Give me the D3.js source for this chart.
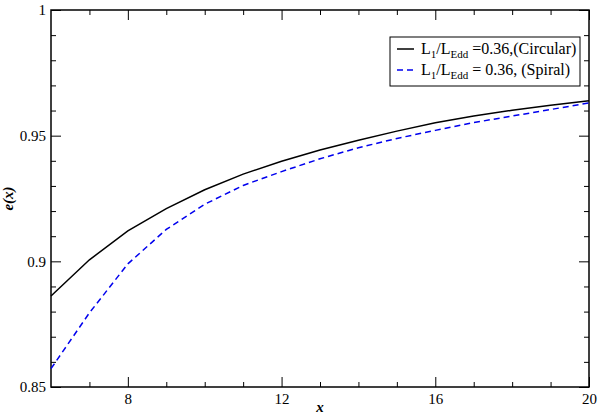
<!DOCTYPE html>
<html>
<head>
<meta charset="utf-8">
<script src="https://cdn.jsdelivr.net/npm/d3@7"></script>
<style>
  body { margin: 0; background: #fff; }
  svg text { font-family: "Liberation Serif", "Times New Roman", Times, "Nimbus Roman", "DejaVu Serif", serif !important; }
</style>
</head>
<body>
<div id="plot-container"></div>
<script>
const w = 600;
const h = 417;
const margin = { left: 51, right: 11, top: 10, bottom: 30 };

// data
const xValues = [6, 7, 8, 9, 10, 11, 12, 13, 14, 15, 16, 17, 18, 19, 20];
const circular = [0.8862, 0.9006, 0.9121, 0.9210, 0.9285, 0.9347, 0.9398, 0.9443, 0.9482, 0.9518, 0.9551, 0.9578, 0.9601, 0.9621, 0.9639];
const spiral = [0.8573, 0.8795, 0.8990, 0.9127, 0.9227, 0.9302, 0.9357, 0.9408, 0.9452, 0.9489, 0.9521, 0.9552, 0.9578, 0.9604, 0.9630];
const xTicks = [8, 12, 16, 20];
const xMinor = [7, 9, 10, 11, 13, 14, 15, 17, 18, 19];
const yTicks = [0.85, 0.9, 0.95, 1];
const yMinor = [0.86, 0.87, 0.88, 0.89, 0.91, 0.92, 0.93, 0.94, 0.96, 0.97, 0.98, 0.99];

const serif = '"Liberation Serif", "Times New Roman", Times, "DejaVu Serif", serif';

const svg = d3.select('#plot-container')
    .append('svg')
    .attr('width', w)
    .attr('height', h)
    .attr('font-family', serif)
    .style('background-color', '#fff');

const xScale = d3.scaleLinear().domain([6, 20]).range([margin.left, w - margin.right]);
const yScale = d3.scaleLinear().domain([0.85, 1]).range([h - margin.bottom, margin.top]);

const x0 = margin.left, x1 = w - margin.right;
const y0 = h - margin.bottom, y1 = margin.top;

// axes, ticks pointing inward on all four sides
const major = 10, minor = 5;
const fmt = d => String(+d.toFixed(2));

svg.append('g')
    .attr('transform', 'translate(0,' + y0 + ')')
    .call(d3.axisBottom(xScale).tickValues(xTicks).tickSize(-major).tickPadding(6).tickFormat(d3.format('d')));
svg.append('g')
    .attr('transform', 'translate(0,' + y0 + ')')
    .call(d3.axisBottom(xScale).tickValues(xMinor).tickSize(-minor).tickFormat(''));
svg.append('g')
    .attr('transform', 'translate(0,' + y1 + ')')
    .call(d3.axisTop(xScale).tickValues(xTicks).tickSize(-major).tickFormat(''));
svg.append('g')
    .attr('transform', 'translate(0,' + y1 + ')')
    .call(d3.axisTop(xScale).tickValues(xMinor).tickSize(-minor).tickFormat(''));

svg.append('g')
    .attr('transform', 'translate(' + x0 + ',0)')
    .call(d3.axisLeft(yScale).tickValues(yTicks).tickSize(-major).tickPadding(5).tickFormat(fmt));
svg.append('g')
    .attr('transform', 'translate(' + x0 + ',0)')
    .call(d3.axisLeft(yScale).tickValues(yMinor).tickSize(-minor).tickFormat(''));
svg.append('g')
    .attr('transform', 'translate(' + x1 + ',0)')
    .call(d3.axisRight(yScale).tickValues(yTicks).tickSize(-major).tickFormat(''));
svg.append('g')
    .attr('transform', 'translate(' + x1 + ',0)')
    .call(d3.axisRight(yScale).tickValues(yMinor).tickSize(-minor).tickFormat(''));

svg.selectAll('.domain').remove();
svg.selectAll('g').attr('font-family', serif);
svg.selectAll('.tick line').attr('stroke', '#000').attr('stroke-width', 1);
svg.selectAll('.tick text')
    .attr('fill', '#000')
    .attr('font-family', serif)
    .attr('font-size', 15);

svg.append('rect')
    .attr('x', x0).attr('y', y1)
    .attr('width', x1 - x0).attr('height', y0 - y1)
    .attr('fill', 'none')
    .attr('stroke', '#000')
    .attr('stroke-width', 1.5);

// curves
const line = d3.line()
    .x((d, i) => xScale(xValues[i]))
    .y(d => yScale(d));

svg.append('path')
    .datum(circular)
    .attr('d', line)
    .attr('fill', 'none')
    .attr('stroke', '#000')
    .attr('stroke-width', 1.5);

svg.append('path')
    .datum(spiral)
    .attr('d', line)
    .attr('fill', 'none')
    .attr('stroke', '#0000ee')
    .attr('stroke-width', 1.5)
    .attr('stroke-dasharray', '6,4');

// axis titles
svg.append('text')
    .attr('x', (x0 + x1) / 2)
    .attr('y', 412)
    .attr('text-anchor', 'middle')
    .attr('font-size', 15)
    .attr('font-weight', 'bold')
    .attr('font-style', 'italic')
    .text('x');

svg.append('text')
    .attr('transform', 'rotate(-90)')
    .attr('x', -((y0 + y1) / 2))
    .attr('y', 13)
    .attr('text-anchor', 'middle')
    .attr('font-size', 15)
    .attr('font-weight', 'bold')
    .attr('font-style', 'italic')
    .text('e(x)');

// legend
const legend = svg.append('g');
legend.append('rect')
    .attr('x', 390).attr('y', 37)
    .attr('width', 190).attr('height', 49)
    .attr('fill', '#fff')
    .attr('stroke', '#000')
    .attr('stroke-width', 1);

const entries = [
    { tail: ' =0.36,(Circular)', color: '#000', dash: null },
    { tail: ' = 0.36, (Spiral)', color: '#0000ee', dash: '6,4' }
];
entries.forEach((e, i) => {
    const ly = 49 + i * 21;
    legend.append('line')
        .attr('x1', 397).attr('x2', 414)
        .attr('y1', ly).attr('y2', ly)
        .attr('stroke', e.color)
        .attr('stroke-width', 1.5)
        .attr('stroke-dasharray', e.dash);
    const t = legend.append('text')
        .attr('x', 421)
        .attr('y', ly + 5)
        .attr('font-size', 16);
    t.append('tspan').text('L');
    t.append('tspan').attr('dy', 4).attr('font-size', 11).text('1');
    t.append('tspan').attr('dy', -4).text('/L');
    t.append('tspan').attr('dy', 4).attr('font-size', 11).text('Edd');
    t.append('tspan').attr('dy', -4).text(e.tail);
});
</script>
</body>
</html>
